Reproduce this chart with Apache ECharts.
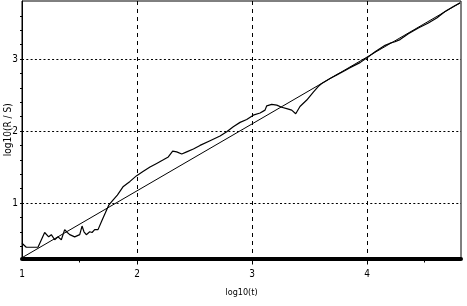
<!DOCTYPE html>
<html>
<head>
<meta charset="utf-8">
<script src="https://cdn.jsdelivr.net/npm/echarts@6/dist/echarts.min.js"></script>
<style>html,body{margin:0;padding:0;background:#fff;}#c{width:467px;height:306px;}</style>
</head>
<body>
<div id="c"></div>
<script>
// R/S curve: log10(t) vs log10(R/S)
var curveX = [1.000,1.037,1.139,1.197,1.232,1.255,1.284,1.313,1.342,1.371,1.394,1.415,1.458,1.502,1.522,1.539,1.559,1.589,1.609,1.632,1.661,1.696,1.724,1.754,1.791,1.829,1.881,1.939,1.997,2.055,2.113,2.171,2.229,2.272,2.310,2.345,2.389,2.432,2.490,2.548,2.635,2.722,2.780,2.837,2.896,2.954,3.011,3.070,3.113,3.128,3.171,3.215,3.258,3.302,3.345,3.380,3.417,3.476,3.533,3.577,3.606,3.678,3.737,3.809,3.852,3.939,4.003,4.070,4.157,4.200,4.243,4.287,4.359,4.446,4.533,4.606,4.678,4.751,4.809];
var curveY = [0.44,0.385,0.385,0.59,0.53,0.56,0.49,0.53,0.49,0.63,0.59,0.56,0.53,0.56,0.68,0.60,0.56,0.60,0.59,0.63,0.63,0.76,0.86,0.97,1.04,1.11,1.23,1.30,1.38,1.44,1.50,1.55,1.60,1.64,1.72,1.71,1.68,1.71,1.75,1.80,1.865,1.93,1.99,2.06,2.12,2.16,2.22,2.25,2.29,2.35,2.37,2.36,2.33,2.31,2.29,2.24,2.34,2.43,2.54,2.62,2.66,2.73,2.78,2.84,2.88,2.95,3.02,3.10,3.19,3.22,3.24,3.27,3.35,3.43,3.50,3.57,3.66,3.73,3.78];
// fitted straight line end points
var fitX = [1.0, 4.81];
var fitY = [0.24, 3.78];
var xLabels = [1, 2, 3, 4];
var xMinorTicks = [1.5, 4.5];
var yLabels = [1, 2, 3];
var yMinorTicks = [0.4, 0.6, 0.8, 1.2, 1.4, 1.6, 1.8, 2.2, 2.4, 2.6, 2.8, 3.2, 3.4, 3.6];

var curve = curveX.map(function (x, i) { return [x, curveY[i]]; });
var fit = fitX.map(function (x, i) { return [x, fitY[i]]; });

var font = "'Liberation Sans Narrow', 'DejaVu Sans Condensed', 'Liberation Sans', Arial, sans-serif";
var chart = echarts.init(document.getElementById('c'));
chart.setOption({
  animation: false,
  backgroundColor: '#fff',
  grid: { left: 22, right: 6, top: 1, bottom: 47.5, outerBoundsMode: 'none', containLabel: false, show: true, borderColor: '#000', borderWidth: 1, backgroundColor: 'transparent' },
  xAxis: [{
    type: 'value', min: 1, max: 4.817,
    name: 'log10(t)', nameLocation: 'middle', nameGap: 30, nameMoveOverlap: false,
    nameTextStyle: { color: '#000', fontFamily: font, fontSize: 9 },
    axisLine: { show: true, onZero: false, lineStyle: { color: '#000', width: 4 } },
    axisTick: { show: true, customValues: [2, 3, 4], length: 6, lineStyle: { color: '#000', width: 1 } },
    axisLabel: { customValues: xLabels, color: '#000', fontFamily: font, fontSize: 10, margin: 11 },
    splitLine: { show: true, lineStyle: { color: '#000', width: 1, type: [4, 4] } }
  }, {
    type: 'value', min: 1, max: 4.817, position: 'bottom',
    axisLine: { show: false },
    axisTick: { show: true, customValues: xMinorTicks, length: 4, lineStyle: { color: '#000', width: 1 } },
    axisLabel: { show: false },
    splitLine: { show: false }
  }],
  yAxis: [{
    type: 'value', min: 0.229, max: 3.806,
    name: 'log10(R / S)', nameLocation: 'middle', nameGap: 9, nameRotate: 90, nameMoveOverlap: false,
    nameTextStyle: { color: '#000', fontFamily: font, fontSize: 10 },
    axisLine: { show: true, onZero: false, lineStyle: { color: '#000', width: 1 } },
    axisTick: { show: true, customValues: yLabels, length: 2, lineStyle: { color: '#000', width: 1 } },
    axisLabel: { customValues: yLabels, color: '#000', fontFamily: font, fontSize: 10, margin: 4 },
    splitLine: { show: true, lineStyle: { color: '#000', width: 1, type: [2, 2.3] } }
  }, {
    type: 'value', min: 0.229, max: 3.806, position: 'left',
    axisLine: { show: false },
    axisTick: { show: true, customValues: yMinorTicks, length: 2, lineStyle: { color: '#000', width: 1 } },
    axisLabel: { show: false },
    splitLine: { show: false }
  }],
  series: [{
    type: 'line', data: curve, xAxisIndex: 0, yAxisIndex: 0,
    showSymbol: false, symbol: 'none', silent: true,
    lineStyle: { color: '#000', width: 1.2 }
  }, {
    type: 'line', data: fit, xAxisIndex: 0, yAxisIndex: 0,
    showSymbol: false, symbol: 'none', silent: true,
    lineStyle: { color: '#000', width: 1 }
  }]
});
</script>
</body>
</html>
